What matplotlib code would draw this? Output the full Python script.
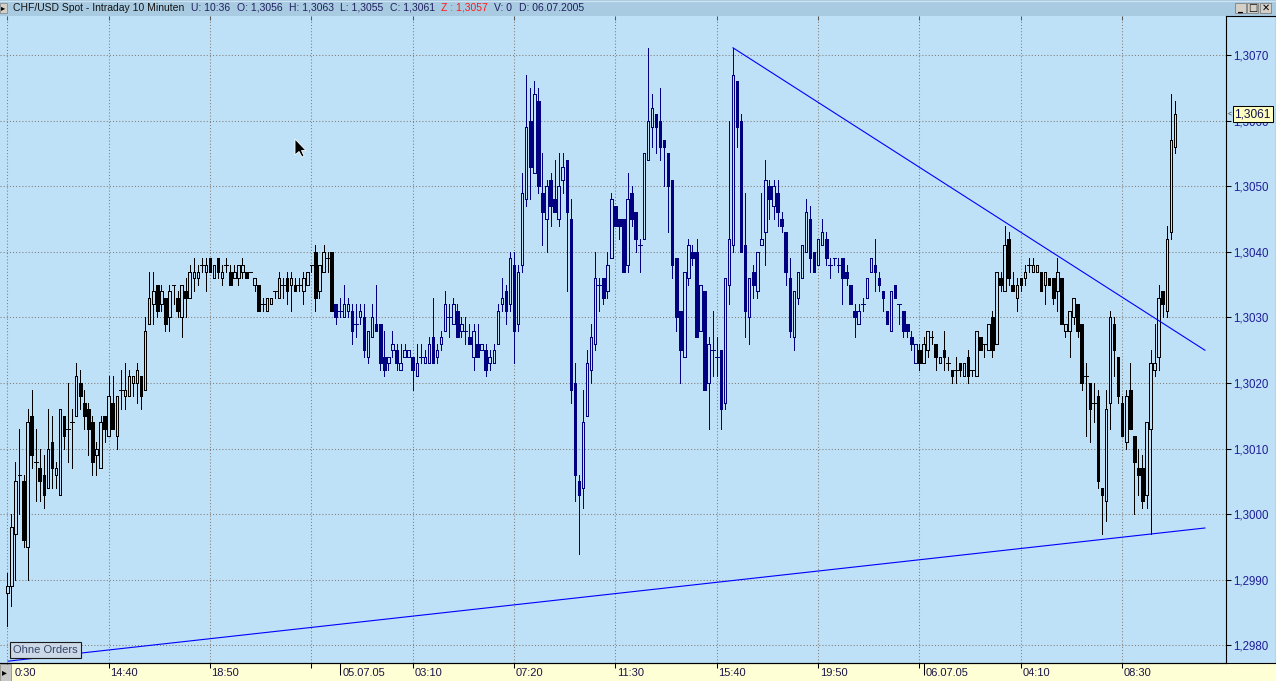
import numpy as np
import matplotlib
matplotlib.use("Agg")
import matplotlib.pyplot as plt
import matplotlib.transforms as mtransforms
from matplotlib.patches import Rectangle, Polygon
from matplotlib.lines import Line2D
from matplotlib.ticker import MultipleLocator, FuncFormatter

plt.rcParams['font.family'] = ['Liberation Sans', 'DejaVu Sans']

# CHF/USD Spot, 10-minute candles, 04.07.05 10:30 .. 06.07.05 10:30
opens = [
    1.2988, 1.2989, 1.2997, 1.3006, 1.3005, 1.2995, 1.3015, 1.3008, 1.3007, 1.3006,
    1.3004, 1.3011, 1.3006, 1.3003, 1.3015, 1.3013, 1.3014, 1.3015, 1.3020, 1.3017,
    1.3016, 1.3014, 1.3009, 1.3007, 1.3015, 1.3012, 1.3017, 1.3012, 1.3019, 1.3018,
    1.3018, 1.3020, 1.3020, 1.3021, 1.3019, 1.3029, 1.3032, 1.3035, 1.3032, 1.3033,
    1.3030, 1.3035, 1.3033, 1.3030, 1.3034, 1.3033, 1.3036, 1.3036, 1.3038, 1.3037,
    1.3039, 1.3036, 1.3039, 1.3036, 1.3038, 1.3037, 1.3036, 1.3036, 1.3037, 1.3037,
    1.3037, 1.3035, 1.3035, 1.3032, 1.3031, 1.3032, 1.3034, 1.3033, 1.3035, 1.3036,
    1.3035, 1.3035, 1.3035, 1.3034, 1.3035, 1.3038, 1.3040, 1.3034, 1.3037, 1.3039,
    1.3040, 1.3032, 1.3031, 1.3030, 1.3031, 1.3031, 1.3029, 1.3030, 1.3030, 1.3024,
    1.3027, 1.3029, 1.3029, 1.3024, 1.3023, 1.3025, 1.3025, 1.3022, 1.3024, 1.3024,
    1.3024, 1.3021, 1.3024, 1.3023, 1.3023, 1.3027, 1.3024, 1.3026, 1.3028, 1.3030,
    1.3029, 1.3031, 1.3028, 1.3028, 1.3027, 1.3024, 1.3026, 1.3025, 1.3025, 1.3023,
    1.3023, 1.3026, 1.3032, 1.3034, 1.3032, 1.3038, 1.3029, 1.3038, 1.3048, 1.3060,
    1.3052, 1.3063, 1.3049, 1.3045, 1.3051, 1.3048, 1.3045, 1.3051, 1.3054, 1.3045,
    1.3020, 1.3005, 1.3004, 1.3015, 1.3022, 1.3026, 1.3035, 1.3036, 1.3034, 1.3039,
    1.3047, 1.3045, 1.3045, 1.3038, 1.3049, 1.3046, 1.3041, 1.3042, 1.3054, 1.3059,
    1.3061, 1.3060, 1.3057, 1.3055, 1.3051, 1.3039, 1.3031, 1.3024, 1.3036, 1.3040,
    1.3040, 1.3028, 1.3034, 1.3020, 1.3025, 1.3024, 1.3025, 1.3017, 1.3035, 1.3041,
    1.3066, 1.3060, 1.3041, 1.3030, 1.3037, 1.3034, 1.3041, 1.3043, 1.3050, 1.3047,
    1.3049, 1.3045, 1.3043, 1.3036, 1.3027, 1.3033, 1.3036, 1.3040, 1.3045, 1.3040,
    1.3038, 1.3041, 1.3042, 1.3038, 1.3039, 1.3038, 1.3039, 1.3037, 1.3035, 1.3031,
    1.3029, 1.3032, 1.3033, 1.3037, 1.3038, 1.3036, 1.3034, 1.3031, 1.3028, 1.3035,
    1.3032, 1.3031, 1.3029, 1.3027, 1.3023, 1.3025, 1.3023, 1.3025, 1.3027, 1.3026,
    1.3023, 1.3025, 1.3023, 1.3022, 1.3022, 1.3023, 1.3021, 1.3024, 1.3022, 1.3021,
    1.3027, 1.3026, 1.3025, 1.3030, 1.3026, 1.3036, 1.3034, 1.3042, 1.3035, 1.3033,
    1.3036, 1.3036, 1.3038, 1.3037, 1.3037, 1.3037, 1.3035, 1.3036, 1.3036, 1.3034,
    1.3036, 1.3028, 1.3028, 1.3030, 1.3032, 1.3029, 1.3021, 1.3020, 1.3017, 1.3018,
    1.3004, 1.3002, 1.3017, 1.3029, 1.3024, 1.3017, 1.3011, 1.3019, 1.3012, 1.3007,
    1.3007, 1.3003, 1.3013, 1.3022, 1.3024, 1.3034, 1.3031, 1.3043, 1.3056,
]
highs = [
    1.2991, 1.3000, 1.3008, 1.3013, 1.3006, 1.3016, 1.3019, 1.3013, 1.3010, 1.3009,
    1.3016, 1.3015, 1.3008, 1.3016, 1.3015, 1.3020, 1.3016, 1.3023, 1.3022, 1.3019,
    1.3017, 1.3015, 1.3011, 1.3015, 1.3015, 1.3021, 1.3021, 1.3018, 1.3022, 1.3023,
    1.3022, 1.3021, 1.3023, 1.3021, 1.3030, 1.3037, 1.3037, 1.3035, 1.3035, 1.3033,
    1.3035, 1.3035, 1.3034, 1.3035, 1.3036, 1.3038, 1.3039, 1.3038, 1.3039, 1.3039,
    1.3039, 1.3038, 1.3039, 1.3038, 1.3039, 1.3038, 1.3038, 1.3038, 1.3039, 1.3037,
    1.3037, 1.3036, 1.3035, 1.3033, 1.3033, 1.3033, 1.3034, 1.3037, 1.3036, 1.3037,
    1.3037, 1.3036, 1.3036, 1.3037, 1.3037, 1.3038, 1.3041, 1.3038, 1.3041, 1.3040,
    1.3040, 1.3032, 1.3033, 1.3035, 1.3033, 1.3032, 1.3032, 1.3032, 1.3032, 1.3028,
    1.3032, 1.3035, 1.3029, 1.3028, 1.3024, 1.3028, 1.3026, 1.3026, 1.3026, 1.3025,
    1.3024, 1.3026, 1.3026, 1.3025, 1.3027, 1.3033, 1.3026, 1.3028, 1.3034, 1.3032,
    1.3033, 1.3032, 1.3030, 1.3030, 1.3029, 1.3029, 1.3029, 1.3026, 1.3026, 1.3025,
    1.3026, 1.3032, 1.3036, 1.3035, 1.3040, 1.3040, 1.3038, 1.3052, 1.3067, 1.3065,
    1.3066, 1.3065, 1.3055, 1.3051, 1.3052, 1.3054, 1.3055, 1.3055, 1.3054, 1.3048,
    1.3023, 1.3006, 1.3019, 1.3025, 1.3029, 1.3040, 1.3036, 1.3036, 1.3040, 1.3049,
    1.3047, 1.3045, 1.3045, 1.3052, 1.3050, 1.3046, 1.3042, 1.3055, 1.3071, 1.3064,
    1.3061, 1.3065, 1.3057, 1.3055, 1.3051, 1.3039, 1.3031, 1.3037, 1.3042, 1.3041,
    1.3042, 1.3035, 1.3034, 1.3027, 1.3031, 1.3027, 1.3025, 1.3036, 1.3060, 1.3071,
    1.3066, 1.3061, 1.3049, 1.3036, 1.3038, 1.3040, 1.3049, 1.3054, 1.3051, 1.3051,
    1.3051, 1.3046, 1.3043, 1.3039, 1.3034, 1.3037, 1.3041, 1.3048, 1.3047, 1.3040,
    1.3042, 1.3045, 1.3043, 1.3039, 1.3039, 1.3039, 1.3039, 1.3038, 1.3035, 1.3032,
    1.3032, 1.3033, 1.3036, 1.3039, 1.3042, 1.3037, 1.3034, 1.3031, 1.3034, 1.3035,
    1.3032, 1.3031, 1.3029, 1.3028, 1.3026, 1.3026, 1.3027, 1.3028, 1.3028, 1.3026,
    1.3024, 1.3028, 1.3024, 1.3022, 1.3024, 1.3023, 1.3023, 1.3025, 1.3022, 1.3028,
    1.3027, 1.3026, 1.3029, 1.3031, 1.3037, 1.3037, 1.3044, 1.3043, 1.3037, 1.3036,
    1.3036, 1.3038, 1.3039, 1.3039, 1.3038, 1.3037, 1.3037, 1.3036, 1.3036, 1.3039,
    1.3036, 1.3029, 1.3031, 1.3033, 1.3032, 1.3029, 1.3023, 1.3020, 1.3020, 1.3019,
    1.3004, 1.3019, 1.3031, 1.3030, 1.3024, 1.3018, 1.3019, 1.3023, 1.3012, 1.3010,
    1.3009, 1.3014, 1.3025, 1.3029, 1.3035, 1.3034, 1.3044, 1.3064, 1.3063,
]
lows = [
    1.2983, 1.2986, 1.2990, 1.3000, 1.2995, 1.2990, 1.3007, 1.3002, 1.3002, 1.3001,
    1.3004, 1.3004, 1.3004, 1.3003, 1.3010, 1.3008, 1.3007, 1.3015, 1.3016, 1.3013,
    1.3009, 1.3006, 1.3006, 1.3007, 1.3011, 1.3012, 1.3013, 1.3010, 1.3016, 1.3016,
    1.3018, 1.3018, 1.3017, 1.3016, 1.3019, 1.3029, 1.3029, 1.3030, 1.3031, 1.3028,
    1.3028, 1.3032, 1.3030, 1.3027, 1.3030, 1.3033, 1.3034, 1.3035, 1.3037, 1.3034,
    1.3037, 1.3036, 1.3036, 1.3035, 1.3037, 1.3035, 1.3036, 1.3035, 1.3036, 1.3036,
    1.3037, 1.3034, 1.3031, 1.3031, 1.3031, 1.3032, 1.3033, 1.3033, 1.3033, 1.3032,
    1.3031, 1.3034, 1.3034, 1.3032, 1.3035, 1.3037, 1.3031, 1.3033, 1.3037, 1.3037,
    1.3031, 1.3029, 1.3030, 1.3030, 1.3030, 1.3026, 1.3027, 1.3029, 1.3024, 1.3023,
    1.3027, 1.3028, 1.3022, 1.3021, 1.3022, 1.3024, 1.3022, 1.3022, 1.3024, 1.3024,
    1.3019, 1.3021, 1.3023, 1.3023, 1.3023, 1.3023, 1.3023, 1.3025, 1.3028, 1.3027,
    1.3029, 1.3027, 1.3027, 1.3026, 1.3026, 1.3022, 1.3024, 1.3025, 1.3021, 1.3022,
    1.3023, 1.3026, 1.3031, 1.3029, 1.3031, 1.3023, 1.3028, 1.3037, 1.3047, 1.3048,
    1.3052, 1.3049, 1.3041, 1.3040, 1.3044, 1.3046, 1.3044, 1.3049, 1.3034, 1.3017,
    1.3002, 1.2994, 1.3001, 1.3015, 1.3020, 1.3025, 1.3031, 1.3032, 1.3033, 1.3039,
    1.3044, 1.3042, 1.3037, 1.3037, 1.3044, 1.3040, 1.3037, 1.3042, 1.3054, 1.3056,
    1.3055, 1.3054, 1.3050, 1.3043, 1.3036, 1.3028, 1.3020, 1.3024, 1.3035, 1.3038,
    1.3027, 1.3028, 1.3019, 1.3013, 1.3021, 1.3021, 1.3013, 1.3016, 1.3032, 1.3040,
    1.3056, 1.3040, 1.3027, 1.3026, 1.3033, 1.3033, 1.3041, 1.3038, 1.3045, 1.3045,
    1.3044, 1.3043, 1.3035, 1.3027, 1.3025, 1.3032, 1.3036, 1.3040, 1.3037, 1.3037,
    1.3038, 1.3041, 1.3038, 1.3036, 1.3038, 1.3037, 1.3032, 1.3035, 1.3032, 1.3027,
    1.3029, 1.3031, 1.3033, 1.3037, 1.3034, 1.3034, 1.3031, 1.3029, 1.3028, 1.3033,
    1.3029, 1.3027, 1.3027, 1.3025, 1.3023, 1.3022, 1.3023, 1.3024, 1.3026, 1.3022,
    1.3023, 1.3022, 1.3022, 1.3020, 1.3020, 1.3021, 1.3021, 1.3020, 1.3021, 1.3021,
    1.3025, 1.3024, 1.3025, 1.3024, 1.3026, 1.3034, 1.3034, 1.3035, 1.3034, 1.3031,
    1.3034, 1.3035, 1.3037, 1.3037, 1.3037, 1.3034, 1.3032, 1.3035, 1.3032, 1.3031,
    1.3029, 1.3027, 1.3024, 1.3029, 1.3027, 1.3019, 1.3012, 1.3011, 1.3014, 1.3004,
    1.2997, 1.2999, 1.3013, 1.3021, 1.3017, 1.3012, 1.3010, 1.3013, 1.3000, 1.3003,
    1.3001, 1.3001, 1.2997, 1.3021, 1.3022, 1.3030, 1.3030, 1.3042, 1.3055,
]
closes = [
    1.2989, 1.2998, 1.3005, 1.3006, 1.2996, 1.3014, 1.3009, 1.3008, 1.3005, 1.3003,
    1.3010, 1.3007, 1.3007, 1.3016, 1.3012, 1.3013, 1.3014, 1.3021, 1.3018, 1.3015,
    1.3013, 1.3008, 1.3010, 1.3014, 1.3013, 1.3018, 1.3013, 1.3018, 1.3019, 1.3019,
    1.3021, 1.3021, 1.3022, 1.3018, 1.3028, 1.3033, 1.3034, 1.3031, 1.3034, 1.3029,
    1.3034, 1.3035, 1.3031, 1.3035, 1.3033, 1.3037, 1.3037, 1.3037, 1.3038, 1.3038,
    1.3037, 1.3038, 1.3037, 1.3037, 1.3038, 1.3035, 1.3037, 1.3038, 1.3038, 1.3036,
    1.3037, 1.3036, 1.3031, 1.3032, 1.3033, 1.3033, 1.3034, 1.3036, 1.3035, 1.3034,
    1.3036, 1.3034, 1.3035, 1.3036, 1.3037, 1.3038, 1.3033, 1.3038, 1.3040, 1.3039,
    1.3031, 1.3030, 1.3031, 1.3032, 1.3032, 1.3028, 1.3029, 1.3031, 1.3025, 1.3028,
    1.3030, 1.3028, 1.3023, 1.3022, 1.3024, 1.3026, 1.3023, 1.3023, 1.3025, 1.3025,
    1.3022, 1.3023, 1.3024, 1.3024, 1.3026, 1.3023, 1.3025, 1.3027, 1.3032, 1.3030,
    1.3032, 1.3027, 1.3029, 1.3028, 1.3026, 1.3028, 1.3024, 1.3026, 1.3022, 1.3024,
    1.3025, 1.3031, 1.3033, 1.3031, 1.3039, 1.3028, 1.3037, 1.3049, 1.3059, 1.3053,
    1.3064, 1.3050, 1.3046, 1.3050, 1.3047, 1.3046, 1.3050, 1.3053, 1.3046, 1.3019,
    1.3006, 1.3003, 1.3014, 1.3023, 1.3027, 1.3036, 1.3035, 1.3033, 1.3038, 1.3048,
    1.3044, 1.3044, 1.3037, 1.3048, 1.3045, 1.3042, 1.3041, 1.3055, 1.3060, 1.3062,
    1.3059, 1.3056, 1.3056, 1.3050, 1.3038, 1.3030, 1.3025, 1.3037, 1.3041, 1.3039,
    1.3027, 1.3035, 1.3019, 1.3026, 1.3025, 1.3024, 1.3016, 1.3036, 1.3042, 1.3067,
    1.3059, 1.3040, 1.3031, 1.3036, 1.3035, 1.3040, 1.3042, 1.3051, 1.3048, 1.3050,
    1.3046, 1.3044, 1.3037, 1.3028, 1.3034, 1.3037, 1.3041, 1.3046, 1.3039, 1.3037,
    1.3042, 1.3043, 1.3039, 1.3038, 1.3039, 1.3038, 1.3036, 1.3036, 1.3032, 1.3030,
    1.3031, 1.3032, 1.3036, 1.3039, 1.3037, 1.3035, 1.3033, 1.3029, 1.3034, 1.3033,
    1.3032, 1.3028, 1.3028, 1.3026, 1.3026, 1.3023, 1.3026, 1.3028, 1.3027, 1.3024,
    1.3024, 1.3024, 1.3023, 1.3021, 1.3022, 1.3022, 1.3023, 1.3021, 1.3022, 1.3028,
    1.3025, 1.3026, 1.3029, 1.3025, 1.3037, 1.3035, 1.3041, 1.3036, 1.3034, 1.3035,
    1.3035, 1.3037, 1.3038, 1.3038, 1.3038, 1.3034, 1.3037, 1.3035, 1.3033, 1.3037,
    1.3029, 1.3029, 1.3031, 1.3033, 1.3028, 1.3020, 1.3021, 1.3016, 1.3017, 1.3005,
    1.3003, 1.3016, 1.3030, 1.3025, 1.3018, 1.3012, 1.3018, 1.3013, 1.3008, 1.3006,
    1.3002, 1.3014, 1.3023, 1.3023, 1.3033, 1.3032, 1.3042, 1.3057, 1.3061,
]

# bars belonging to 05.07.05 are drawn in navy
day2_first, day2_last = 81, 224

time_tick_bars = [0, 25, 50, 75, 100, 125, 150, 175, 200, 225, 250, 275]
time_tick_labels = ['0:30', '14:40', '18:50', '', '03:10', '07:20', '11:30',
                    '15:40', '19:50', '', '04:10', '08:30']
date_tick_bars = [82, 226]
date_tick_labels = ['05.07.05', '06.07.05']

# hand drawn trend lines (bar index, price)
upper_line_x = [179, 295.4]
upper_line_y = [1.30711, 1.30250]
lower_line_x = [0.2, 295.4]
lower_line_y = [1.29776, 1.29979]

title_name = 'CHF/USD Spot - Intraday 10 Minuten'
title_fields = ['U: 10:36', 'O: 1,3056', 'H: 1,3063', 'L: 1,3055', 'C: 1,3061',
                'Z : 1,3057', 'V: 0', 'D: 06.07.2005']
title_colors = ['#20205e'] * 5 + ['#ff1a1a'] + ['#20205e'] * 2

BG = '#bee1f8'
TITLE_BG = '#a9cbe2'
STRIP = '#ffffd6'
NAVY = '#000080'
GRID = '#857d75'
W, H = 1276, 681
PX = 0.72  # one pixel in points at 100 dpi


def fx(px):
    return px / W


def fy(py):
    return 1 - py / H


fig = plt.figure(figsize=(W / 100, H / 100), dpi=100)
fig.patch.set_facecolor(BG)

ax = fig.add_axes([0, fy(663), fx(1226), (663 - 16) / H])
ax.set_facecolor(BG)
ax.set_xlim(-1.8, 300.6)
ax.set_ylim(1.297732, 1.307595)

o = np.array(opens)
h = np.array(highs)
l = np.array(lows)
c = np.array(closes)
x = np.arange(len(o))
cols = np.array(['black'] * len(o), dtype=object)
cols[day2_first:day2_last + 1] = NAVY

doji = np.isclose(o, c)
up = (c > o) & ~doji
down = (c < o) & ~doji

ax.vlines(x, l, h, colors=list(cols), lw=PX, zorder=3, antialiased=False)
ax.bar(x[up], (c - o)[up], bottom=o[up], width=0.62, facecolor=BG,
       edgecolor=list(cols[up]), lw=PX, zorder=4, antialiased=False)
ax.bar(x[down], (o - c)[down], bottom=c[down], width=0.62,
       facecolor=list(cols[down]), edgecolor=list(cols[down]), lw=PX, zorder=4,
       antialiased=False)
ax.hlines(o[doji], x[doji] - 0.45, x[doji] + 0.45, colors=list(cols[doji]),
          lw=PX, zorder=4, antialiased=False)

ax.plot(upper_line_x, upper_line_y, color='#0000ff', lw=0.8, zorder=5)
ax.plot(lower_line_x, lower_line_y, color='#0000ff', lw=0.8, zorder=5)

# grid and axes
ax.set_xticks(time_tick_bars)
ax.set_xticks(date_tick_bars, minor=True)
ax.yaxis.set_major_locator(MultipleLocator(0.001))
ax.yaxis.set_major_formatter(FuncFormatter(lambda v, p: f'{v:.4f}'.replace('.', ',')))
ax.grid(True, which='major', color=GRID, ls=(0, (1, 2)), lw=0.75, zorder=1)
ax.set_axisbelow(True)
ax.yaxis.tick_right()
ax.tick_params(axis='y', direction='out', length=3.6, width=0.75, color='black',
               labelcolor='#1e1e96', labelsize=8.3, pad=1.5)
ax.tick_params(axis='x', which='major', direction='out', length=3.6, width=0.75,
               labelbottom=False)
ax.tick_params(axis='x', which='minor', direction='out', length=8.5, width=0.75,
               labelbottom=False)
for side in ('left', 'top'):
    ax.spines[side].set_visible(False)
for side in ('right', 'bottom'):
    ax.spines[side].set_linewidth(0.8)
    ax.spines[side].set_color('black')

xb = mtransforms.blended_transform_factory(ax.transData, ax.transAxes)
ax.vlines(time_tick_bars, 1 - 4 / 647, 1, transform=xb, color='#5a5a5a', lw=0.75)

for pos, lab in zip(time_tick_bars, time_tick_labels):
    dx = 7 if pos == 0 else 1.5
    off = mtransforms.ScaledTranslation(dx / 100, -4.5 / 100, fig.dpi_scale_trans)
    ax.text(pos, 0, lab, transform=xb + off, ha='left', va='top', fontsize=8,
            color='#1a1446', clip_on=False)
for pos, lab in zip(date_tick_bars, date_tick_labels):
    off = mtransforms.ScaledTranslation(2.5 / 100, -4.5 / 100, fig.dpi_scale_trans)
    ax.text(pos, 0, lab, transform=xb + off, ha='left', va='top', fontsize=8,
            color='#1a1446', clip_on=False)

# last price marker on the price scale
yb = mtransforms.blended_transform_factory(ax.transAxes, ax.transData)
off = mtransforms.ScaledTranslation(8.5 / 100, 0, fig.dpi_scale_trans)
ax.text(1.0, closes[-1], f'{closes[-1]:.4f}'.replace('.', ','), transform=yb + off,
        ha='left', va='center', fontsize=8.6, color='#10104a', zorder=10, clip_on=False,
        bbox=dict(boxstyle='square,pad=0.14', fc='#ffffc2', ec='black', lw=0.75))
off2 = mtransforms.ScaledTranslation(1.5 / 100, 0, fig.dpi_scale_trans)
ax.text(1.0, closes[-1], '<', transform=yb + off2, ha='left', va='center',
        fontsize=5, color='#303030', zorder=10, clip_on=False)

# window chrome
fig.add_artist(Rectangle((0, fy(16)), 1, 16 / H, transform=fig.transFigure,
                         fc=TITLE_BG, ec='none', zorder=-1))
fig.add_artist(Line2D([0, 1], [fy(0.5), fy(0.5)], color='#cfe3f1', lw=0.8))
fig.add_artist(Rectangle((0, 0), 1, 18 / H, transform=fig.transFigure,
                         fc=STRIP, ec='none', zorder=-1))
fig.add_artist(Line2D([0, 1], [fy(663), fy(663)], color='black', lw=0.8))
fig.add_artist(Line2D([fx(1226), 1], [fy(15.5), fy(15.5)], color='black', lw=0.8))
fig.add_artist(Line2D([fx(1275.5), fx(1275.5)], [fy(15.5), fy(663)], color='black', lw=0.8))

# title line: name, then the quote fields packed between x=191 and x=584
renderer = fig.canvas.get_renderer()
fig.text(fx(13), fy(8), title_name, ha='left', va='center', fontsize=7.5, color='#141414')
field_texts = [fig.text(0, fy(8), t, ha='left', va='center', fontsize=7.5, color=col)
               for t, col in zip(title_fields, title_colors)]
widths = [t.get_window_extent(renderer).width for t in field_texts]
gap = (584 - 191 - sum(widths)) / (len(widths) - 1)
cursor_x = 191
for t, w_ in zip(field_texts, widths):
    t.set_x(fx(cursor_x))
    cursor_x += w_ + gap

# small buttons
fig.add_artist(Rectangle((0, fy(13)), fx(7), 10 / H, transform=fig.transFigure,
                         fc='#d4d0c8', ec='#808080', lw=0.5, zorder=6))
fig.text(fx(0.5), fy(8), '\u25b8', fontsize=6, va='center', ha='left', color='black',
         family='DejaVu Sans', zorder=7)
fig.add_artist(Rectangle((0, 0), fx(11), 17 / H, transform=fig.transFigure,
                         fc='#c8c8c8', ec='#808080', lw=0.5, zorder=6))
fig.text(fx(2), fy(672), '\u25b8', fontsize=7, va='center', ha='left', color='black',
         family='DejaVu Sans', zorder=7)
for bx, glyph in zip([1235, 1247, 1260], ['_', '\u25a1', '\u2715']):
    fig.add_artist(Rectangle((fx(bx), fy(13)), fx(11), 10 / H, transform=fig.transFigure,
                             fc='#d4d0c8', ec='#707070', lw=0.5, zorder=6))
    fig.text(fx(bx + 5.5), fy(8), glyph, fontsize=7, va='center', ha='center',
             color='black', family='DejaVu Sans', weight='bold', zorder=7)

# order status box
fig.text(fx(13), fy(650), 'Ohne Orders', ha='left', va='center', fontsize=8,
         color='#34466a', zorder=8,
         bbox=dict(boxstyle='square,pad=0.28', fc='#ccd8e6', ec='#1a1a1a', lw=0.8))

# mouse pointer
cur = np.array([(0, 0), (0, 16), (4, 12.5), (7, 18), (9, 17), (6.5, 11.5), (11, 11.5)])
fig.add_artist(Polygon([(fx(295 + px), fy(139 + py)) for px, py in cur], closed=True,
                       transform=fig.transFigure, fc='black', ec='white', lw=0.6, zorder=9))

fig.savefig('out.png', dpi=100, facecolor=BG)
